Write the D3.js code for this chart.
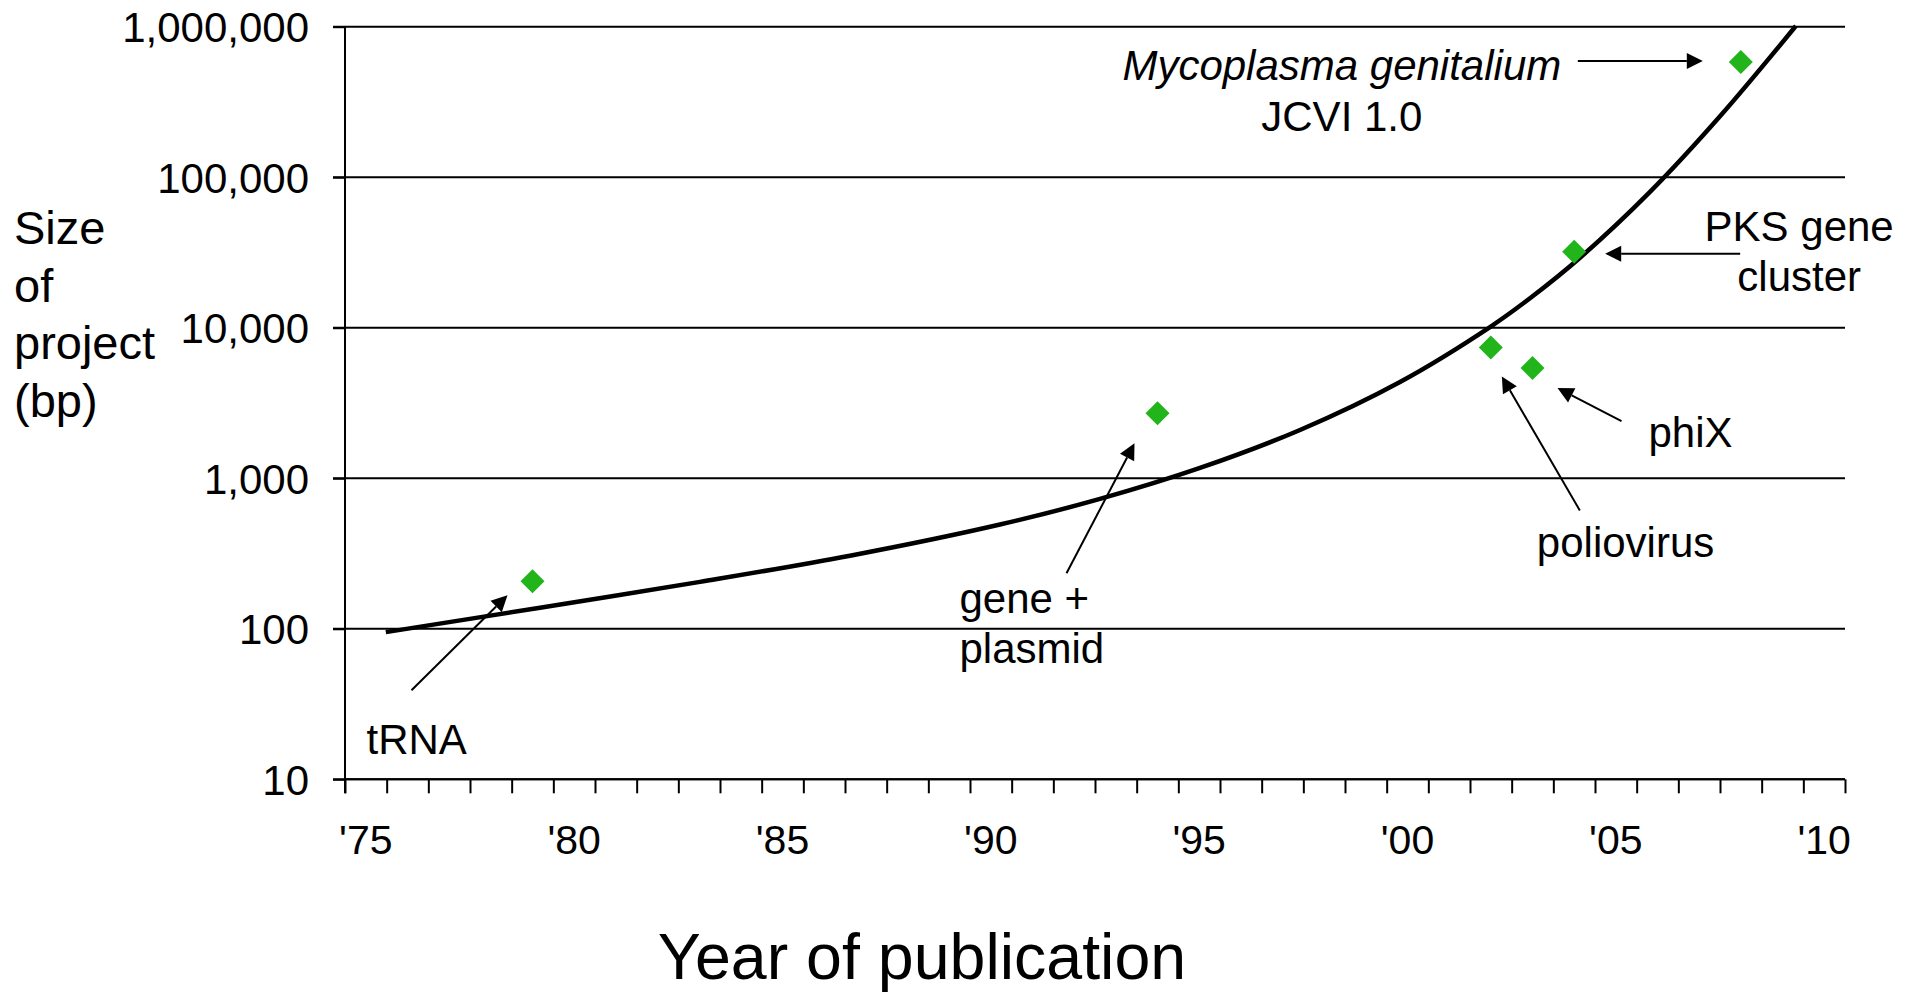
<!DOCTYPE html>
<html>
<head>
<meta charset="utf-8">
<script src="https://cdn.jsdelivr.net/npm/d3@7/dist/d3.min.js"></script>
<style>
  html, body { margin: 0; padding: 0; background: #fff; }
  svg { display: block; }
  text { font-family: "Liberation Sans", Arial, sans-serif; fill: #000; }
</style>
</head>
<body>
<svg id="chart" width="1914" height="993"></svg>
<script>
// ---- data ----
const yTickValues = [10, 100, 1000, 10000, 100000, 1000000];
const xLabelYears = [1975, 1980, 1985, 1990, 1995, 2000, 2005, 2010];
const pointNames  = ["tRNA", "gene + plasmid", "poliovirus", "phiX", "PKS gene cluster", "Mycoplasma genitalium JCVI 1.0"];
const pointYears  = [1979, 1994, 2002, 2003, 2004, 2008];
const pointSizes  = [207, 2700, 7400, 5400, 32000, 583000];
const trendYears  = [1975.48, 1979.18, 1983.02, 1986.62, 1990.22, 1992.62, 1995.02, 1997.42, 1999.82, 2001.98, 2002.94, 2004.14, 2005.82, 2007.50, 2009.32];
const trendSizes  = [95, 138, 205, 306, 493, 729, 1171, 2094, 4364, 10110, 15700, 29180, 79860, 253900, 1010000];

(function () {
// ---- layout ----
const pLeft = 345, pRight = 1845, pTop = 26.7, pBottom = 779.3;
const svg = d3.select("#chart");

const x = d3.scaleLinear().domain([1974.5, 2010.5]).range([pLeft, pRight]);
const y = d3.scaleLog().domain([10, 1000000]).range([pBottom, pTop]);

// gridlines
svg.append("g").selectAll("line").data(yTickValues).join("line")
  .attr("x1", pLeft - 12).attr("x2", pRight)
  .attr("y1", d => y(d)).attr("y2", d => y(d))
  .attr("stroke", "#000").attr("stroke-width", 2);

// y axis
const yAxis = svg.append("g").attr("transform", `translate(${pLeft},0)`)
  .call(d3.axisLeft(y).tickValues(yTickValues).tickSize(12).tickPadding(24).tickFormat(d3.format(",")));
yAxis.select(".domain").remove();
yAxis.selectAll("line").attr("stroke-width", 2);
yAxis.selectAll("text").attr("font-size", 42).attr("dy", "0.36em")
  .style("font-family", '"Liberation Sans", Arial, sans-serif');
svg.append("line").attr("x1", pLeft).attr("x2", pLeft).attr("y1", pTop).attr("y2", pBottom + 14)
  .attr("stroke", "#000").attr("stroke-width", 2);

// x axis (category-style ticks between years)
const xAxis = svg.append("g").attr("transform", `translate(0,${pBottom})`)
  .call(d3.axisBottom(x).tickValues(d3.range(1974.5, 2011, 1)).tickSize(14).tickFormat(""));
xAxis.select(".domain").remove();
xAxis.selectAll("line").attr("stroke-width", 2);
svg.append("line").attr("x1", pLeft).attr("x2", pRight).attr("y1", pBottom).attr("y2", pBottom)
  .attr("stroke", "#000").attr("stroke-width", 2);
svg.append("g").selectAll("text").data(xLabelYears).join("text")
  .attr("x", d => x(d)).attr("y", 854)
  .attr("text-anchor", "middle").attr("font-size", 41)
  .text(d => "'" + String(d).slice(2));

// axis titles
const yTitle = ["Size", "of", "project", "(bp)"];
svg.append("g").selectAll("text").data(yTitle).join("text")
  .attr("x", 14).attr("y", (d, i) => 244 + i * 57.5)
  .attr("font-size", 47).text(d => d);
svg.append("text").attr("x", 922).attr("y", 979).attr("text-anchor", "middle")
  .attr("font-size", 64.5).text("Year of publication");

// trend curve
const line = d3.line().x(d => x(d[0])).y(d => y(d[1])).curve(d3.curveCatmullRom);
svg.append("path").datum(trendYears.map((t, i) => [t, trendSizes[i]]))
  .attr("d", line).attr("fill", "none").attr("stroke", "#000").attr("stroke-width", 4.5)
  .attr("stroke-linecap", "butt");

// points
const pts = pointYears.map((t, i) => ({ name: pointNames[i], year: t, size: pointSizes[i] }));
svg.append("g").selectAll("path").data(pts).join("path")
  .attr("transform", d => `translate(${x(d.year)},${y(d.size)})`)
  .attr("d", "M0,-12L12,0L0,12L-12,0Z")
  .attr("fill", "#21b41b");

// annotations: offsets (pixels) from each point: arrow tail, arrow tip, text lines
const annotations = [
  { tail: [-121, 109], tip: [-25, 14], anchor: "start", lines: [{ t: "tRNA", dx: -166, dy: 173 }] },
  { tail: [-91, 160], tip: [-23, 30], anchor: "start", lines: [{ t: "gene +", dx: -198, dy: 200 }, { t: "plasmid", dx: -198, dy: 250 }] },
  { tail: [89, 163], tip: [11, 29], anchor: "start", lines: [{ t: "poliovirus", dx: 46, dy: 210 }] },
  { tail: [89, 53], tip: [25, 20], anchor: "start", lines: [{ t: "phiX", dx: 116, dy: 79 }] },
  { tail: [166, 2], tip: [31, 2], anchor: "middle", lines: [{ t: "PKS gene", dx: 225, dy: -11 }, { t: "cluster", dx: 225, dy: 39 }] },
  { tail: [-163, -1], tip: [-38, -1], anchor: "middle", lines: [{ t: "Mycoplasma genitalium", dx: -399, dy: 18, italic: true }, { t: "JCVI 1.0", dx: -399, dy: 69 }] }
];

const ag = svg.append("g");
annotations.forEach((a, i) => {
  const px = x(pts[i].year), py = y(pts[i].size);
  const x1 = px + a.tail[0], y1 = py + a.tail[1];
  const x2 = px + a.tip[0], y2 = py + a.tip[1];
  const ang = Math.atan2(y2 - y1, x2 - x1);
  const L = 16, W = 8;
  const bx = x2 - L * Math.cos(ang), by = y2 - L * Math.sin(ang);
  ag.append("line").attr("x1", x1).attr("y1", y1).attr("x2", bx).attr("y2", by)
    .attr("stroke", "#000").attr("stroke-width", 2);
  const nx = -Math.sin(ang), ny = Math.cos(ang);
  ag.append("path")
    .attr("d", `M${x2},${y2}L${bx + nx * W},${by + ny * W}L${bx - nx * W},${by - ny * W}Z`)
    .attr("fill", "#000");
  a.lines.forEach(l => {
    ag.append("text").attr("x", px + l.dx).attr("y", py + l.dy)
      .attr("text-anchor", a.anchor).attr("font-size", 42)
      .attr("font-style", l.italic ? "italic" : "normal")
      .text(l.t);
  });
});
})();
</script>
</body>
</html>
